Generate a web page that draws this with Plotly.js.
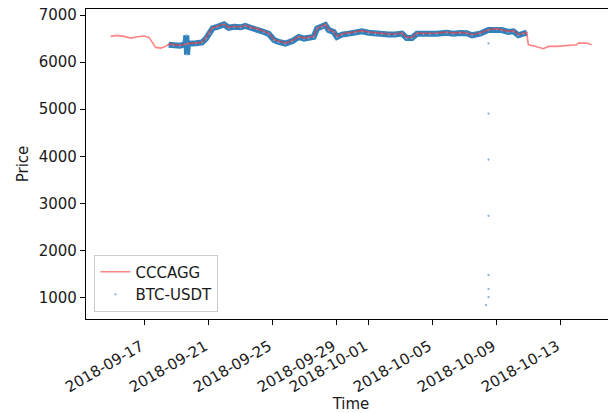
<!DOCTYPE html>
<html>
<head>
<meta charset="utf-8">
<script src="https://cdn.plot.ly/plotly-3.0.1.min.js"></script>
<style>
html,body{margin:0;padding:0;overflow:hidden;background:#fff;width:608px;height:413px;}
#chart{width:625px;height:413px;}
</style>
</head>
<body>
<div id="chart"></div>
<script>
// CCCAGG aggregated price
const cccaggTime = [
"2018-09-14 22:00","2018-09-15 08:00","2018-09-15 18:00","2018-09-16 04:00","2018-09-16 14:00",
"2018-09-17 00:00","2018-09-17 07:30","2018-09-17 12:30","2018-09-17 17:30","2018-09-18 01:00",
"2018-09-18 08:30","2018-09-18 13:30","2018-09-18 21:00","2018-09-19 07:00","2018-09-19 14:30",
"2018-09-19 22:00","2018-09-20 08:00","2018-09-20 15:30","2018-09-20 20:30","2018-09-21 01:00",
"2018-09-21 06:30","2018-09-21 14:00","2018-09-22 00:00","2018-09-22 07:00","2018-09-22 14:40",
"2018-09-23 01:00","2018-09-23 08:00","2018-09-23 16:00","2018-09-24 02:00","2018-09-24 12:00",
"2018-09-24 19:00","2018-09-25 03:00","2018-09-25 10:00","2018-09-25 20:00","2018-09-26 06:00",
"2018-09-26 16:00","2018-09-27 00:00","2018-09-27 07:00","2018-09-27 14:30","2018-09-27 19:40",
"2018-09-28 03:00","2018-09-28 08:00","2018-09-28 13:00","2018-09-28 20:30","2018-09-29 01:30",
"2018-09-29 09:00","2018-09-29 19:00","2018-09-30 05:00","2018-09-30 15:00","2018-10-01 01:00",
"2018-10-01 11:00","2018-10-01 21:00","2018-10-02 07:00","2018-10-02 17:00","2018-10-03 03:00",
"2018-10-03 10:00","2018-10-03 18:00","2018-10-04 01:30","2018-10-04 11:00","2018-10-04 21:00",
"2018-10-05 07:00","2018-10-05 22:00","2018-10-06 08:00","2018-10-06 18:00","2018-10-07 04:00",
"2018-10-07 12:00","2018-10-08 00:00","2018-10-08 12:30","2018-10-09 01:00","2018-10-09 08:30",
"2018-10-09 18:30","2018-10-10 02:00","2018-10-10 09:30","2018-10-10 17:00","2018-10-10 22:00",
"2018-10-11 00:30","2018-10-11 08:00","2018-10-11 23:00","2018-10-12 06:30","2018-10-12 19:00",
"2018-10-13 10:00","2018-10-14 01:00","2018-10-14 03:30","2018-10-14 16:00","2018-10-14 23:30"
];
const cccaggPrice = [
6547,6568,6547,6511,6540,
6553,6526,6404,6313,6298,
6334,6383,6370,6355,6383,
6404,6404,6425,6511,6617,
6724,6760,6809,6738,6760,
6745,6781,6738,6711,6653,
6617,6477,6440,6404,6455,
6547,6511,6526,6547,6724,
6760,6809,6689,6653,6547,
6596,6617,6638,6668,6638,
6617,6611,6596,6596,6617,
6526,6526,6617,6611,6611,
6617,6638,6617,6632,6625,
6583,6617,6689,6711,6689,
6653,6668,6583,6617,6632,
6370,6349,6285,6334,6334,
6349,6370,6404,6404,6370
];

// BTC-USDT trades (band centre)
const btcTime = [
"2018-09-18 13:00","2018-09-18 20:00","2018-09-19 06:00","2018-09-19 14:00","2018-09-19 15:30",
"2018-09-19 16:30","2018-09-19 18:00","2018-09-20 06:00","2018-09-20 15:00","2018-09-20 21:00",
"2018-09-21 02:00","2018-09-21 07:00","2018-09-21 14:00","2018-09-22 00:00","2018-09-22 07:00",
"2018-09-22 15:00","2018-09-23 01:00","2018-09-23 08:00","2018-09-23 16:00","2018-09-24 02:00",
"2018-09-24 12:00","2018-09-24 19:00","2018-09-25 03:00","2018-09-25 10:00","2018-09-25 20:00",
"2018-09-26 06:00","2018-09-26 16:00","2018-09-27 00:00","2018-09-27 07:00","2018-09-27 14:30",
"2018-09-27 19:40","2018-09-28 03:00","2018-09-28 08:00","2018-09-28 13:00","2018-09-28 20:30",
"2018-09-29 01:30","2018-09-29 09:00","2018-09-29 19:00","2018-09-30 05:00","2018-09-30 15:00",
"2018-10-01 01:00","2018-10-01 11:00","2018-10-01 21:00","2018-10-02 07:00","2018-10-02 17:00",
"2018-10-03 03:00","2018-10-03 10:00","2018-10-03 18:00","2018-10-04 01:30","2018-10-04 11:00",
"2018-10-04 21:00","2018-10-05 07:00","2018-10-05 22:00","2018-10-06 08:00","2018-10-06 18:00",
"2018-10-07 04:00","2018-10-07 12:00","2018-10-08 00:00","2018-10-08 12:30","2018-10-09 01:00",
"2018-10-09 08:30","2018-10-09 18:30","2018-10-10 02:00","2018-10-10 09:30","2018-10-10 17:00",
"2018-10-10 22:00"
];
const btcPrice = [
6370,6360,6350,6380,6570,
6160,6390,6400,6420,6500,
6610,6720,6750,6800,6730,
6750,6740,6770,6730,6700,
6640,6600,6470,6430,6395,
6445,6535,6500,6515,6535,
6715,6750,6790,6680,6640,
6535,6585,6605,6625,6655,
6625,6605,6600,6585,6585,
6605,6515,6515,6605,6600,
6600,6605,6625,6605,6620,
6612,6570,6605,6680,6700,
6680,6640,6655,6570,6605,
6625
];
// isolated BTC-USDT prints on 2018-10-08
const btcOutlierTime = ["2018-10-08 12:45","2018-10-08 12:45","2018-10-08 12:45","2018-10-08 12:45","2018-10-08 12:45","2018-10-08 12:45","2018-10-08 12:45","2018-10-08 09:00"];
const btcOutlierPrice = [6398,4908,3929,2738,1482,1184,1013,842];

// axis ticks
const xTickVals = ["2018-09-17","2018-09-21","2018-09-25","2018-09-29","2018-10-01","2018-10-05","2018-10-09","2018-10-13"];
const xTickText = ["2018-09-17","2018-09-21","2018-09-25","2018-09-29","2018-10-01","2018-10-05","2018-10-09","2018-10-13"];
const yTickVals = [1000,2000,3000,4000,5000,6000,7000];

const blue = 'rgba(31,119,180,0.92)';
const font = {family: 'DejaVu Sans', size: 15, color: '#1a1a1a'};

const traces = [
  {x: btcTime, y: btcPrice, type: 'scatter', mode: 'lines', showlegend: false, hoverinfo: 'skip',
   line: {color: blue, width: 6}},
  {x: btcTime.concat(btcOutlierTime), y: btcPrice.concat(btcOutlierPrice), type: 'scatter', mode: 'markers',
   name: 'BTC-USDT', legendrank: 2, marker: {color: '#7aaee0', size: 2.2}},
  {x: cccaggTime, y: cccaggPrice, type: 'scatter', mode: 'lines', name: 'CCCAGG', legendrank: 1,
   line: {color: 'rgba(255,50,50,0.6)', width: 1.6}}
];

const layout = {
  width: 625, height: 413,
  margin: {l: 86, r: 9, t: 9, b: 94},
  paper_bgcolor: '#fff', plot_bgcolor: '#fff',
  font: font,
  showlegend: true,
  legend: {x: 0.016, y: 0.024, xanchor: 'left', yanchor: 'bottom',
    bgcolor: 'rgba(255,255,255,0.8)', bordercolor: '#cccccc', borderwidth: 1,
    font: font, itemwidth: 30},
  xaxis: {
    type: 'date',
    range: ['2018-09-13 09:00', '2018-10-16 12:00'],
    tickmode: 'array', tickvals: xTickVals, ticktext: xTickText,
    tickangle: -30, ticks: 'outside', ticklen: 5, tickcolor: '#000', tickwidth: 1,
    ticklabelstandoff: 7, ticklabelshift: -3,
    showline: true, mirror: true, linecolor: '#000', linewidth: 1.1,
    showgrid: false, zeroline: false, tickfont: font,
    title: {text: 'Time', font: font, standoff: 4}
  },
  yaxis: {
    range: [547, 7128],
    tickmode: 'array', tickvals: yTickVals,
    ticks: 'outside', ticklen: 5, tickcolor: '#000', tickwidth: 1,
    showline: true, mirror: true, linecolor: '#000', linewidth: 1.1,
    showgrid: false, zeroline: false, tickfont: font,
    title: {text: 'Price', font: font, standoff: 6}
  }
};

Plotly.newPlot('chart', traces, layout, {displayModeBar: false, staticPlot: true});
</script>
</body>
</html>
